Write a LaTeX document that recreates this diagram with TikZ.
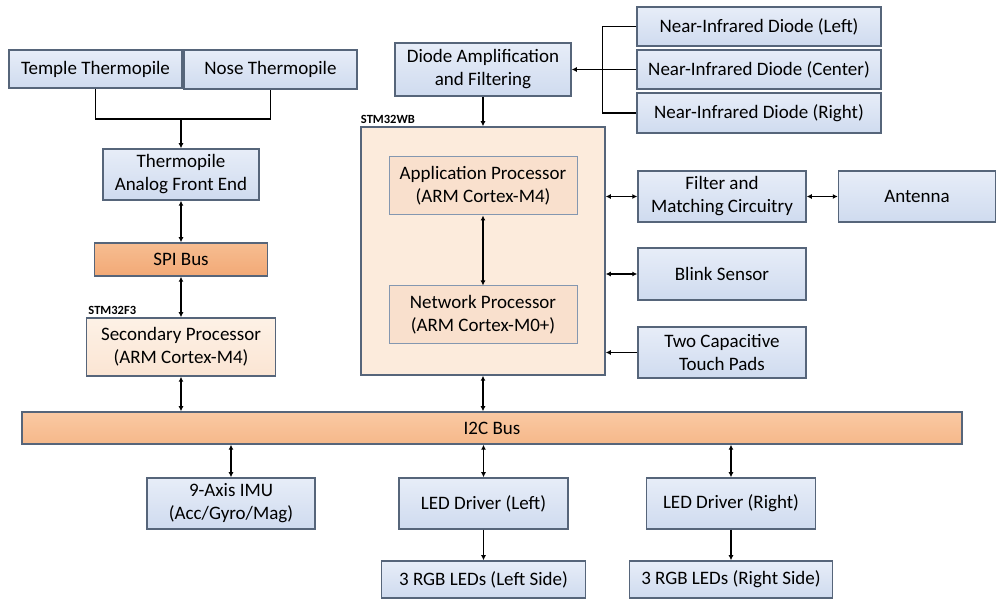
\documentclass[tikz,border=0pt]{standalone}
\usepackage{fontspec}
\setmainfont{Carlito}
\usepackage{xcolor}
\usepackage{tikz}
\usetikzlibrary{positioning,calc,arrows.meta,graphs}

\definecolor{boxtop}{HTML}{E7EDF8}
\definecolor{boxbot}{HTML}{CFDBEF}
\definecolor{boxedge}{HTML}{56657A}
\definecolor{bustop}{HTML}{FAC9A3}
\definecolor{busbot}{HTML}{F5B88A}
\definecolor{spitop}{HTML}{F7BD91}
\definecolor{spibot}{HTML}{F2A976}
\definecolor{sectop}{HTML}{FDF1E6}
\definecolor{secbot}{HTML}{FBE5D3}
\definecolor{chipfill}{HTML}{FCEBDC}
\definecolor{corefill}{HTML}{F9E0CD}
\definecolor{coreedge}{HTML}{8497B0}

\begin{document}
    \begin{tikzpicture}[x=1pt, y=-1pt, line width=1.4pt, >={Latex[length=5pt,width=5pt]},
        every node/.style={font=\fontsize{19}{23}\selectfont, align=center, inner sep=0pt},
        every edge/.append style={line width=1.4pt},
        blockbox/.style={draw=boxedge, line width=1.5pt, top color=boxtop, bottom color=boxbot},
        busbox/.style={draw=boxedge, line width=1.5pt, top color=bustop, bottom color=busbot},
        spibox/.style={draw=boxedge, line width=1.5pt, top color=spitop, bottom color=spibot},
        secbox/.style={draw=boxedge, line width=1.5pt, top color=sectop, bottom color=secbot},
        chipbox/.style={draw=boxedge, line width=1.5pt, fill=chipfill},
        corebox/.style={draw=coreedge, line width=1pt, fill=corefill},
        chiplabel/.style={font=\fontsize{12.5}{14}\selectfont\bfseries, anchor=base west},
        link/.style={line width=1.4pt}]
        \useasboundingbox (0,0) rectangle (997,601);

        \node[blockbox, minimum width=173pt, minimum height=38pt] (temple) at (95.5,69) {Temple Thermopile};
        \node[blockbox, minimum width=173pt, minimum height=39pt] (nose) at (270.5,69.5) {Nose Thermopile};
        \node[blockbox, minimum width=156pt, minimum height=51pt] (afe) at (181,174.5) {Thermopile\\Analog Front End};
        \node[spibox, minimum width=173pt, minimum height=33pt] (spi) at (181,259.5) {SPI Bus};
        \node[secbox, minimum width=189pt, minimum height=58pt] (sec) at (181,347) {Secondary Processor\\(ARM Cortex-M4)};
        \node[chiplabel] (f3label) at ([xshift=2pt,yshift=3pt]sec.north west) {STM32F3};

        \node[blockbox, minimum width=176pt, minimum height=53pt] (diode) at (483,69.5) {Diode Amplification\\and Filtering};
        \node[blockbox, minimum width=244pt, minimum height=39pt] (nirl) at (759,26.5) {Near-Infrared Diode (Left)};
        \node[blockbox, minimum width=244pt, minimum height=39pt] (nirc) at (759,69.5) {Near-Infrared Diode (Center)};
        \node[blockbox, minimum width=244pt, minimum height=40pt] (nirr) at (759,113) {Near-Infrared Diode (Right)};

        \node[chipbox, minimum width=244pt, minimum height=248pt] (stm) at (483,251) {};
        \node[chiplabel] (wblabel) at ([yshift=3pt]stm.north west) {STM32WB};
        \node[corebox, minimum width=188pt, minimum height=58pt] (app) at (483,186) {Application Processor\\(ARM Cortex-M4)};
        \node[corebox, minimum width=188pt, minimum height=58pt] (net) at (483,315) {Network Processor\\(ARM Cortex-M0+)};

        \node[blockbox, minimum width=168pt, minimum height=51pt] (filt) at (722,196.5) {Filter and\\Matching Circuitry};
        \node[blockbox, minimum width=157pt, minimum height=51pt] (ant) at (917,196.5) {Antenna};
        \node[blockbox, minimum width=168pt, minimum height=52pt] (blink) at (722,274) {Blink Sensor};
        \node[blockbox, minimum width=168pt, minimum height=51pt] (touch) at (722,352.5) {Two Capacitive\\Touch Pads};

        \node[busbox, minimum width=940pt, minimum height=32pt] (i2c) at (492,428) {I2C Bus};
        \node[blockbox, minimum width=168pt, minimum height=51pt] (imu) at (231,503.5) {9-Axis IMU\\(Acc/Gyro/Mag)};
        \node[blockbox, minimum width=169pt, minimum height=51pt] (ledl) at (483.5,503.5) {LED Driver (Left)};
        \node[blockbox, minimum width=169pt, minimum height=51pt] (ledr) at (731,503.5) {LED Driver (Right)};
        \node[blockbox, minimum width=204pt, minimum height=37pt] (rgbl) at (483.5,579.5) {3 RGB LEDs (Left Side)};
        \node[blockbox, minimum width=203pt, minimum height=37pt] (rgbr) at (731,579.5) {3 RGB LEDs (Right Side)};

        \coordinate (tjoin) at (181,119);
        \draw[link] (temple.south) |- (tjoin) -| (nose.south);
        \draw[link,->] (tjoin) -- (afe.north);
        \draw[link] (nirl.west) -- ++(-34,0) |- (nirr.west);

        \graph[edges={link}] {
        (afe) <-> (spi),
        (spi) <-> (sec),
        (app) <-> (net),
        (nirc) -> (diode),
        (diode) -> (stm),
        (ledl) -> (rgbl),
        (ledr) -> (rgbr),
        };

        \draw[link,<->] (sec.south) -- (sec.south |- i2c.north);
        \draw[link,<->] (stm.south) -- (stm.south |- i2c.north);
        \draw[link,<->] (imu.north) -- (imu.north |- i2c.south);
        \draw[link,<->] (ledl.north) -- (ledl.north |- i2c.south);
        \draw[link,<->] (ledr.north) -- (ledr.north |- i2c.south);
        \draw[link,<->] (filt.west) -- (filt.west -| stm.east);
        \draw[link,<->] (filt.east) -- (ant.west);
        \draw[link,<->] (blink.west) -- (blink.west -| stm.east);
        \draw[link,->] (touch.west) -- (touch.west -| stm.east);
    \end{tikzpicture}
\end{document}
